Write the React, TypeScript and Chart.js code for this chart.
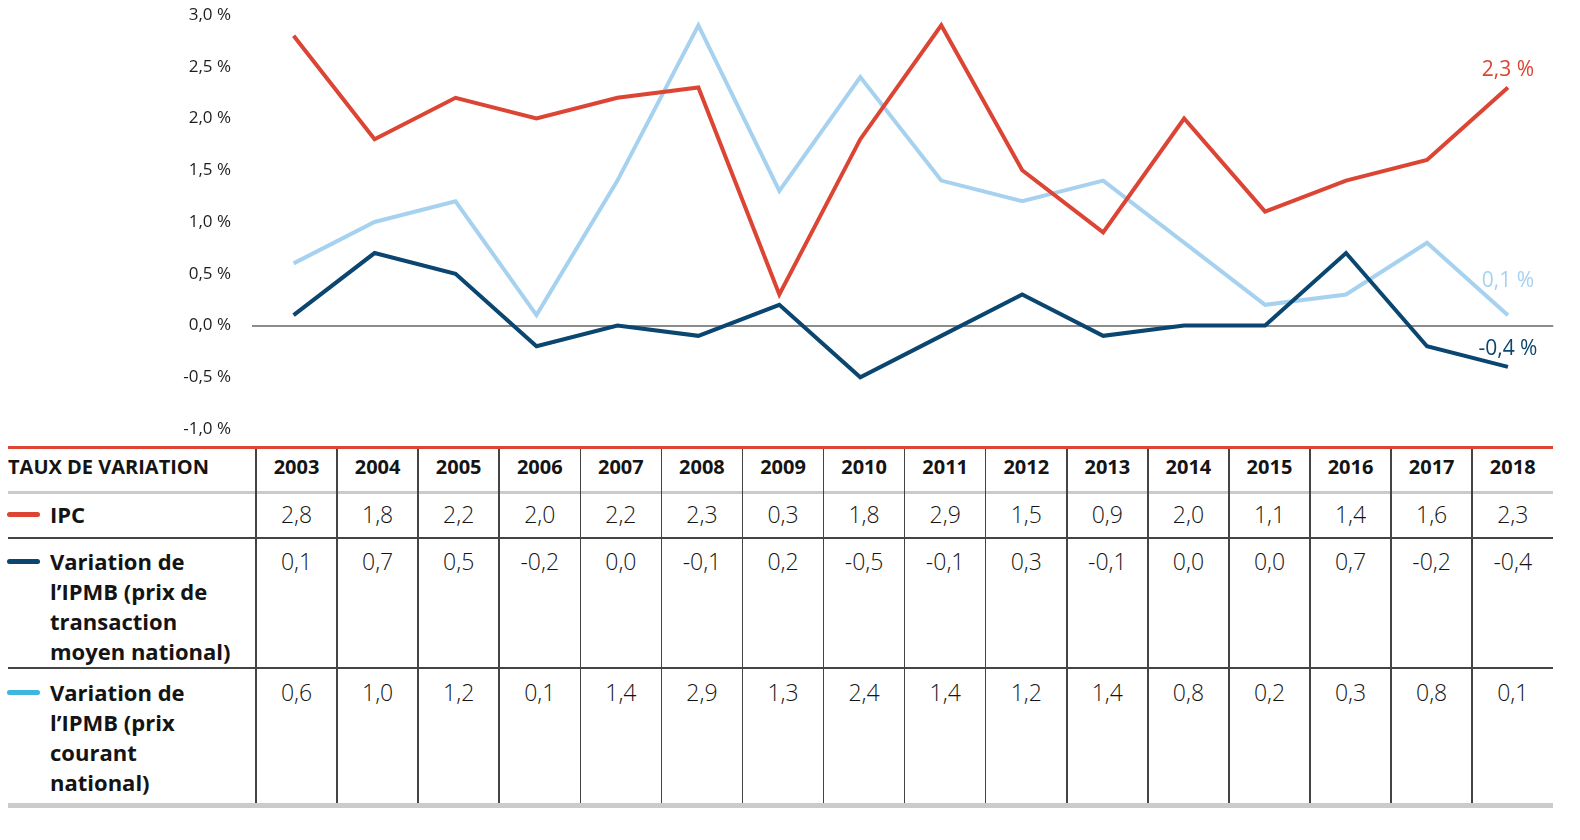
import React, { useEffect, useRef } from "react";
import { Chart, registerables } from "chart.js";

Chart.register(...registerables);

// ---- data ----
const years = ["2003", "2004", "2005", "2006", "2007", "2008", "2009", "2010", "2011", "2012", "2013", "2014", "2015", "2016", "2017", "2018"];
const ipc = [2.8, 1.8, 2.2, 2.0, 2.2, 2.3, 0.3, 1.8, 2.9, 1.5, 0.9, 2.0, 1.1, 1.4, 1.6, 2.3];
const ipmbTransaction = [0.1, 0.7, 0.5, -0.2, 0.0, -0.1, 0.2, -0.5, -0.1, 0.3, -0.1, 0.0, 0.0, 0.7, -0.2, -0.4];
const ipmbCourant = [0.6, 1.0, 1.2, 0.1, 1.4, 2.9, 1.3, 2.4, 1.4, 1.2, 1.4, 0.8, 0.2, 0.3, 0.8, 0.1];
const yTicks = [-1.0, -0.5, 0.0, 0.5, 1.0, 1.5, 2.0, 2.5, 3.0];
const tableTitle = "TAUX DE VARIATION";
const labelIpc = ["IPC"];
const labelTransaction = ["Variation de", "l\u2019IPMB (prix de", "transaction", "moyen national)"];
const labelCourant = ["Variation de", "l\u2019IPMB (prix", "courant", "national)"];

// ---- styles ----
const RED = "#dc4434";
const NAVY = "#0a4670";
const LIGHT = "#a6d2f0";
const CYAN = "#3db7e0";
const FONT = "'Open Sans', sans-serif";

const fmt = (v: number) => v.toFixed(1).replace(".", ",");

const COL0 = 256;
const COLW = 81.08;
const TABLE_RIGHT = COL0 + COLW * 16;

const endLabelPlugin = {
  id: "endLabels",
  afterDatasetsDraw(chart: any) {
    const ctx = chart.ctx;
    const offsets: Record<string, number> = { ipc: 17, tr: 18, co: 34 };
    const colors: Record<string, string> = { ipc: RED, tr: NAVY, co: LIGHT };
    chart.data.datasets.forEach((ds: any, i: number) => {
      const meta = chart.getDatasetMeta(i);
      const last = meta.data[meta.data.length - 1];
      if (!last) return;
      const v = ds.data[ds.data.length - 1].y;
      ctx.save();
      ctx.font = `400 21px ${FONT}`;
      ctx.fillStyle = colors[ds.key];
      ctx.textAlign = "center";
      ctx.textBaseline = "middle";
      ctx.fillText(`${fmt(v)} %`, last.x, last.y - offsets[ds.key]);
      ctx.restore();
    });
  },
};

function ChartCanvas() {
  const ref = useRef<HTMLCanvasElement | null>(null);
  useEffect(() => {
    if (!ref.current) return;
    const toPts = (arr: number[]) => arr.map((v, i) => ({ x: Number(years[i]), y: v }));
    const common = {
      pointRadius: 0,
      pointHoverRadius: 0,
      borderWidth: 4,
      tension: 0,
      fill: false,
      borderJoinStyle: "miter",
      borderCapStyle: "butt",
    };
    const chart = new Chart(ref.current, {
      type: "line",
      data: {
        datasets: [
          { ...common, key: "ipc", label: "IPC", data: toPts(ipc), borderColor: RED, order: 1 } as any,
          { ...common, key: "tr", label: "Transaction", data: toPts(ipmbTransaction), borderColor: NAVY, order: 0 } as any,
          { ...common, key: "co", label: "Courant", data: toPts(ipmbCourant), borderColor: LIGHT, order: 2 } as any,
        ],
      },
      options: {
        animation: false,
        responsive: true,
        maintainAspectRatio: false,
        layout: { padding: { left: 0, right: 1580 - TABLE_RIGHT, top: 0, bottom: 0 } },
        plugins: { legend: { display: false }, tooltip: { enabled: false } },
        scales: {
          x: {
            type: "linear",
            min: 2002.486,
            max: 2018.56,
            display: false,
          },
          y: {
            min: -1,
            max: 3,
            afterBuildTicks: (scale: any) => {
              scale.ticks = yTicks.map((v) => ({ value: v }));
            },
            afterFit: (scale: any) => {
              scale.width = 252;
              scale.paddingTop = 15;
              scale.paddingBottom = 11;
            },
            border: { display: false },
            grid: {
              drawTicks: false,
              lineWidth: 2,
              color: (c: any) => (c.tick && c.tick.value === 0 ? "#8c8c8c" : "rgba(0,0,0,0)"),
            },
            ticks: {
              padding: 21,
              color: "#1e1e1e",
              font: { family: FONT, size: 17, weight: "400" },
              callback: (v: any) => `${fmt(Number(v))} %`,
            },
          },
        },
      } as any,
      plugins: [endLabelPlugin],
    });
    return () => chart.destroy();
  }, []);
  return <canvas ref={ref} />;
}

function abs(style: React.CSSProperties): React.CSSProperties {
  return { position: "absolute", ...style };
}

export default function App() {
  const rows = [
    { label: labelIpc, values: ipc, color: RED, top: 499 },
    { label: labelTransaction, values: ipmbTransaction, color: NAVY, top: 546 },
    { label: labelCourant, values: ipmbCourant, color: CYAN, top: 677 },
  ];
  const textStyle: React.CSSProperties = { color: "#141414", whiteSpace: "nowrap" };
  return (
    <div style={abs({ left: 0, top: 0, width: 1580, height: 840, background: "#fff", fontFamily: FONT })}>
      <div style={abs({ left: 0, top: 0, width: 1580, height: 440 })}>
        <ChartCanvas />
      </div>

      {/* rules */}
      <div style={abs({ left: 8, top: 446, width: TABLE_RIGHT - 8, height: 3, background: RED })} />
      <div style={abs({ left: 8, top: 491, width: TABLE_RIGHT - 8, height: 3, background: "#cbcbcb" })} />
      <div style={abs({ left: 8, top: 537, width: TABLE_RIGHT - 8, height: 1.5, background: "#444" })} />
      <div style={abs({ left: 8, top: 667, width: TABLE_RIGHT - 8, height: 1.5, background: "#444" })} />
      <div style={abs({ left: 8, top: 803, width: TABLE_RIGHT - 8, height: 5, background: "#cbcbcb" })} />
      {years.map((y, i) => (
        <div key={"v" + y} style={abs({ left: COL0 + i * COLW - 0.75, top: 449, width: 1.5, height: 354, background: "#444" })} />
      ))}

      {/* header */}
      <div style={abs({ ...textStyle, left: 8, top: 452, lineHeight: "30px", fontSize: 20, fontWeight: 700 })}>{tableTitle}</div>
      {years.map((y, i) => (
        <div key={"h" + y} style={abs({ ...textStyle, left: COL0 + i * COLW, top: 452, width: COLW, textAlign: "center", lineHeight: "30px", fontSize: 20, fontWeight: 700 })}>
          {y}
        </div>
      ))}

      {/* rows */}
      {rows.map((r, ri) => (
        <React.Fragment key={"r" + ri}>
          <div style={abs({ left: 7, top: r.top + 12.5, width: 33, height: 5, borderRadius: 3, background: r.color })} />
          <div style={abs({ ...textStyle, left: 50, top: r.top, lineHeight: "30px", fontSize: 22, fontWeight: 700 })}>
            {r.label.map((l, li) => (
              <div key={li}>{l}</div>
            ))}
          </div>
          {r.values.map((v, i) => (
            <div key={"c" + ri + i} style={abs({ ...textStyle, left: COL0 + i * COLW, top: r.top, width: COLW, textAlign: "center", lineHeight: "30px", fontSize: 23, fontWeight: 300 })}>
              {fmt(v)}
            </div>
          ))}
        </React.Fragment>
      ))}
    </div>
  );
}
